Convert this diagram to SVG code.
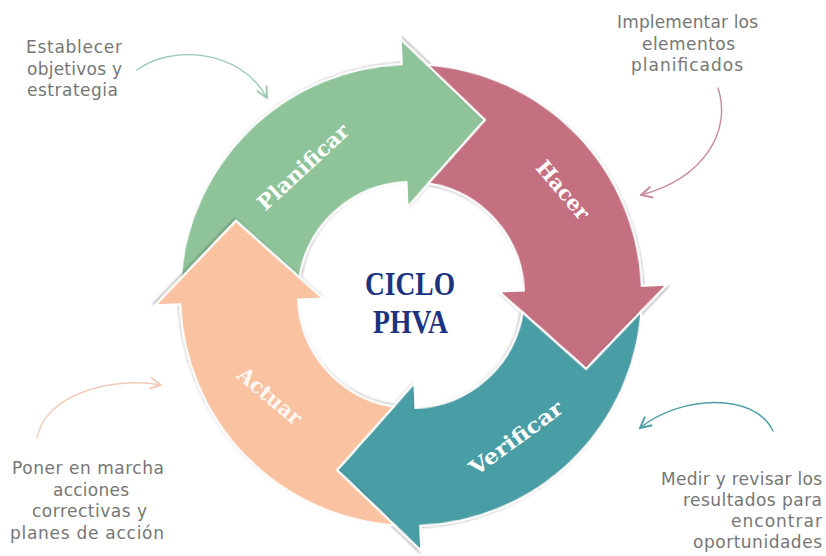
<svg xmlns="http://www.w3.org/2000/svg" xmlns:xlink="http://www.w3.org/1999/xlink" width="826" height="556" viewBox="0 0 826 556">
<style>
.seg{stroke:#ffffff;stroke-width:2;stroke-linejoin:miter;filter:url(#sh)}
.lbl{font-family:"DejaVu Serif","Liberation Serif",serif;font-weight:bold;font-size:21px;fill:#ffffff;text-anchor:middle}
.note{font-family:"DejaVu Sans","Liberation Sans",sans-serif;font-size:17px;fill:#767676}
.title{font-family:"Liberation Serif","DejaVu Serif",serif;font-weight:bold;font-size:34px;fill:#1c3380;text-anchor:middle}
.con{fill:none;stroke-width:1.4;stroke-linecap:round}
</style>
<defs>
<filter id="sh" x="-10%" y="-10%" width="120%" height="120%">
<feDropShadow dx="1" dy="1.5" stdDeviation="1.2" flood-color="#000000" flood-opacity="0.3"/>
</filter>
<path id="arrow" d="M25.46,-229.59 A231,231 0 0 1 231,0 L256,0 L172,81 L88,0 L113,0 A113,113 0 0 0 22.02,-110.84 L81,-172 Z"/>
<marker id="mG" viewBox="0 0 10 10" refX="9" refY="5" markerWidth="14" markerHeight="14" markerUnits="userSpaceOnUse" orient="auto"><path d="M1,1 L9,5 L1,9" fill="none" stroke="#9cc9b0" stroke-width="1.4"/></marker>
<marker id="mP" viewBox="0 0 10 10" refX="9" refY="5" markerWidth="14" markerHeight="14" markerUnits="userSpaceOnUse" orient="auto"><path d="M1,1 L9,5 L1,9" fill="none" stroke="#c88c9c" stroke-width="1.4"/></marker>
<marker id="mO" viewBox="0 0 10 10" refX="9" refY="5" markerWidth="14" markerHeight="14" markerUnits="userSpaceOnUse" orient="auto"><path d="M1,1 L9,5 L1,9" fill="none" stroke="#f0ccb8" stroke-width="1.4"/></marker>
<marker id="mT" viewBox="0 0 10 10" refX="9" refY="5" markerWidth="14" markerHeight="14" markerUnits="userSpaceOnUse" orient="auto"><path d="M1,1 L9,5 L1,9" fill="none" stroke="#4f9ea6" stroke-width="1.4"/></marker>
</defs>
<rect width="826" height="556" fill="#ffffff"/>

<g id="planificar">
<use href="#arrow" class="seg" fill="#8fc49b" transform="translate(411 295) rotate(-92.3)"/>
<text class="lbl" x="0" y="0" dy="0.35em" textLength="116" lengthAdjust="spacingAndGlyphs" transform="translate(303 167) rotate(-42.6)">Planificar</text>
</g>
<g id="hacer">
<use href="#arrow" class="seg" fill="#c46f80" transform="translate(411 295) rotate(-2.3)"/>
<text class="lbl" x="0" y="0" dy="0.35em" textLength="70" lengthAdjust="spacingAndGlyphs" transform="translate(563 190) rotate(49.6)">Hacer</text>
</g>
<g id="verificar">
<use href="#arrow" class="seg" fill="#4a9da4" transform="translate(411 295) rotate(87.7)"/>
<text class="lbl" x="0" y="0" dy="0.35em" textLength="110" lengthAdjust="spacingAndGlyphs" transform="translate(516 438) rotate(-36.3)">Verificar</text>
</g>
<g id="actuar">
<use href="#arrow" class="seg" fill="#f9c3a1" transform="translate(411 295) rotate(177.7)"/>
<text class="lbl" x="0" y="0" dy="0.35em" textLength="77" lengthAdjust="spacingAndGlyphs" fill-opacity="0.9" transform="translate(270 396) rotate(39.8)">Actuar</text>
</g>

<g id="center">
<text class="title" x="410" y="295" textLength="90" lengthAdjust="spacingAndGlyphs">CICLO</text>
<text class="title" x="410.5" y="333" textLength="75" lengthAdjust="spacingAndGlyphs">PHVA</text>
</g>

<g id="note-planificar">
<text class="note" x="26" y="53" textLength="96">Establecer</text>
<text class="note" x="27" y="74.5" textLength="95">objetivos y</text>
<text class="note" x="27" y="96" textLength="91">estrategia</text>
</g>
<g id="note-hacer">
<text class="note" x="617" y="28" textLength="141">Implementar los</text>
<text class="note" x="642" y="49.5" textLength="93">elementos</text>
<text class="note" x="631" y="71" textLength="112">planificados</text>
</g>
<g id="note-actuar">
<text class="note" x="12" y="474" textLength="152">Poner en marcha</text>
<text class="note" x="53" y="496" textLength="76">acciones</text>
<text class="note" x="32" y="517" textLength="115">correctivas y</text>
<text class="note" x="10" y="539" textLength="154">planes de acción</text>
</g>
<g id="note-verificar">
<text class="note" x="661" y="485" textLength="161">Medir y revisar los</text>
<text class="note" x="683" y="506" textLength="139">resultados para</text>
<text class="note" x="731" y="527" textLength="91">encontrar</text>
<text class="note" x="693" y="548" textLength="129">oportunidades</text>
</g>

<g id="connectors">
<path class="con" stroke="#9cc9b0" marker-end="url(#mG)" d="M137,70 C170,45 240,48 267,98"/>
<path class="con" stroke="#c88c9c" marker-end="url(#mP)" d="M718,88 C732,130 705,178 641,195"/>
<path class="con" stroke="#f0ccb8" marker-end="url(#mO)" d="M37,438 C45,395 110,376 161,385"/>
<path class="con" stroke="#4f9ea6" marker-end="url(#mT)" d="M773,431 C755,392 680,395 640,428"/>
</g>
</svg>
